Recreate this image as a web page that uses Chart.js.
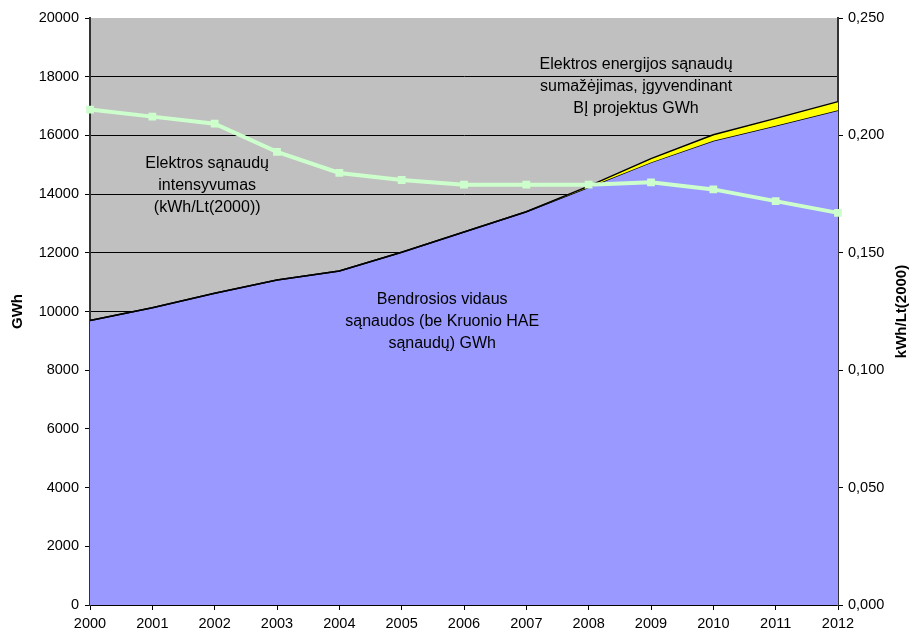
<!DOCTYPE html>
<html lang="lt">
<head>
<meta charset="utf-8">
<title>Elektros sąnaudos</title>
<script src="https://cdn.jsdelivr.net/npm/chart.js@4/dist/chart.umd.min.js"></script>
<style>
  html, body { margin: 0; padding: 0; background: #ffffff; }
  #wrap { width: 912px; height: 632px; }
</style>
</head>
<body>
<div id="wrap"><canvas id="c" width="912" height="632"></canvas></div>
<script>
// Years on the horizontal axis
const years = ['2000','2001','2002','2003','2004','2005','2006','2007','2008','2009','2010','2011','2012'];

// Gross inland consumption excluding Kruonis HPP consumption, GWh
const grossConsumption = [9690, 10130, 10620, 11070, 11380, 12020, 12710, 13400, 14230, 15080, 15820, 16330, 16860];

// Savings from energy-efficiency projects, GWh (stacked above consumption)
const projectSavings = [0, 0, 0, 0, 0, 0, 0, 0, 40, 130, 200, 250, 290];

// Electricity intensity, kWh/Lt(2000)
const intensity = [0.211, 0.208, 0.205, 0.193, 0.184, 0.181, 0.179, 0.179, 0.179, 0.180, 0.177, 0.172, 0.167];

// Axis tick settings
const leftTicks = { min: 0, max: 20000, step: 2000 };
const rightTicks = { min: 0, max: 0.25, step: 0.05 };

// Consumption before savings = consumption + savings
const totalBeforeSavings = grossConsumption.map((v, i) => v + projectSavings[i]);

const FONT = '"Liberation Sans", Arial, sans-serif';

const plotBackground = {
  id: 'plotBackground',
  beforeDraw(chart) {
    const { ctx, chartArea: a } = chart;
    ctx.save();
    ctx.fillStyle = '#C0C0C0';
    ctx.fillRect(a.left, a.top, a.right - a.left, a.bottom - a.top);
    ctx.restore();
  }
};

const textLabels = {
  id: 'textLabels',
  afterDraw(chart) {
    const { ctx } = chart;
    const x = chart.scales.x, y = chart.scales.y;
    ctx.save();
    ctx.fillStyle = '#000000';
    ctx.textAlign = 'center';
    ctx.textBaseline = 'middle';
    ctx.font = '16px ' + FONT;
    const blocks = [
      { cx: x.getPixelForValue(8.76), cy: y.getPixelForValue(17650),
        lines: ['Elektros energijos sąnaudų', 'sumažėjimas, įgyvendinant', 'BĮ projektus GWh'] },
      { cx: x.getPixelForValue(1.88), cy: y.getPixelForValue(14280),
        lines: ['Elektros sąnaudų', 'intensyvumas', '(kWh/Lt(2000))'] },
      { cx: x.getPixelForValue(5.65), cy: y.getPixelForValue(9640),
        lines: ['Bendrosios vidaus', 'sąnaudos (be Kruonio HAE', 'sąnaudų) GWh'] }
    ];
    blocks.forEach(b => {
      b.lines.forEach((t, i) => ctx.fillText(t, b.cx, b.cy + (i - 1) * 22));
    });

    // Axis titles, both reading bottom-to-top
    ctx.font = 'bold 15px ' + FONT;
    const midY = (chart.chartArea.top + chart.chartArea.bottom) / 2;
    [['GWh', 18], ['kWh/Lt(2000)', 902]].forEach(([t, px]) => {
      ctx.save();
      ctx.translate(px, midY);
      ctx.rotate(-Math.PI / 2);
      ctx.fillText(t, 0, 0);
      ctx.restore();
    });
    ctx.restore();
  }
};

new Chart(document.getElementById('c'), {
  type: 'line',
  data: {
    labels: years,
    datasets: [
      {
        label: 'Elektros sąnaudų intensyvumas',
        data: intensity,
        yAxisID: 'y2',
        borderColor: '#CCFFCC',
        backgroundColor: '#CCFFCC',
        borderWidth: 4,
        pointStyle: 'rect',
        pointRadius: 5.5,
        pointBorderWidth: 0,
        fill: false,
        tension: 0,
        order: 0
      },
      {
        label: 'Elektros energijos sąnaudų sumažėjimas',
        data: totalBeforeSavings,
        yAxisID: 'y',
        borderColor: '#000000',
        borderWidth: 1.5,
        backgroundColor: '#FFFF00',
        pointRadius: 0,
        fill: '+1',
        tension: 0,
        order: 1
      },
      {
        label: 'Bendrosios vidaus sąnaudos',
        data: grossConsumption,
        yAxisID: 'y',
        borderColor: '#000000',
        borderWidth: 1.5,
        backgroundColor: '#9999FF',
        pointRadius: 0,
        fill: 'origin',
        tension: 0,
        order: 2
      }
    ]
  },
  options: {
    responsive: false,
    animation: false,
    devicePixelRatio: 1,
    layout: { padding: { top: 18, left: 0, right: 0, bottom: 0 } },
    plugins: {
      legend: { display: false },
      tooltip: { enabled: false },
      title: { display: false }
    },
    scales: {
      x: {
        type: 'category',
        offset: false,
        afterFit(s) { s.height = 27; },
        grid: { display: true, drawOnChartArea: false, drawTicks: true, tickLength: 5, color: '#000000' },
        border: { display: true, color: '#000000', width: 2 },
        ticks: { color: '#000000', font: { family: FONT, size: 14.5 }, padding: 5, maxRotation: 0, autoSkip: false }
      },
      y: {
        position: 'left',
        min: leftTicks.min,
        max: leftTicks.max,
        afterFit(s) { s.width = 90; },
        grid: {
          color: ctx => (ctx.tick && ctx.tick.value === leftTicks.max) ? 'rgba(0,0,0,0)' : '#000000',
          tickColor: '#000000',
          lineWidth: 1,
          drawTicks: true,
          tickLength: 5
        },
        border: { display: true, color: '#333333', width: 2 },
        ticks: {
          stepSize: leftTicks.step,
          color: '#000000',
          padding: 6,
          font: { family: FONT, size: 14.5 },
          callback: v => String(v)
        }
      },
      y2: {
        position: 'right',
        min: rightTicks.min,
        max: rightTicks.max,
        afterFit(s) { s.width = 74; },
        grid: { drawOnChartArea: false, drawTicks: true, tickLength: 5, color: '#000000' },
        border: { display: true, color: '#333333', width: 2 },
        ticks: {
          stepSize: rightTicks.step,
          color: '#000000',
          padding: 5,
          font: { family: FONT, size: 14.5 },
          callback: v => Number(v).toFixed(3).replace('.', ',')
        }
      }
    }
  },
  plugins: [plotBackground, textLabels]
});
</script>
</body>
</html>
